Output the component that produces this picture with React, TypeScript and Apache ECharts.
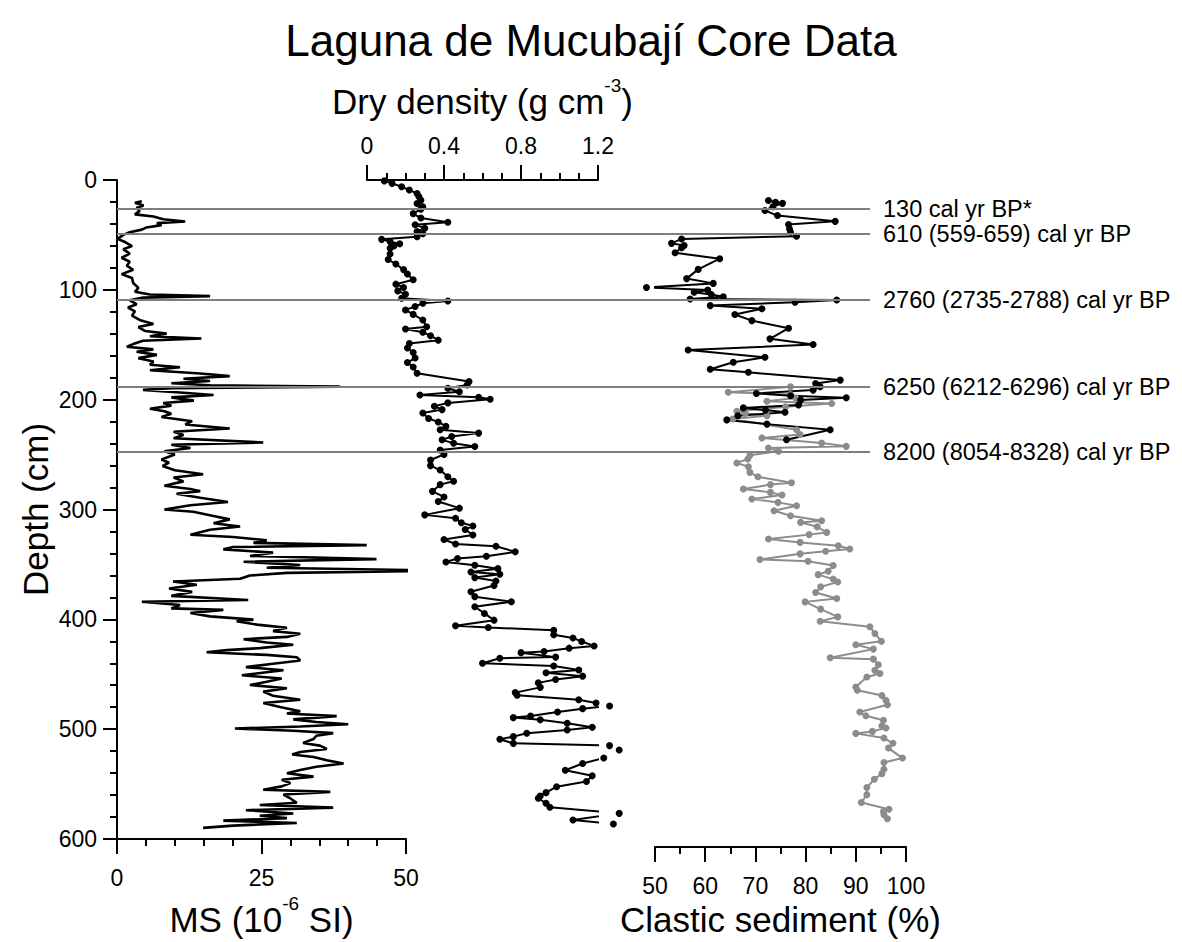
import React, { useEffect, useRef } from "react";
import * as echarts from "echarts";

const FONT = "'Liberation Sans', Arial, Helvetica, sans-serif";

const chartTitle = "Laguna de Mucubají Core Data";

// [depth (cm), MS (10^-6 SI)]
const msProfile: number[][] = [
  [19.3, 4.3], [20.8, 3.1], [23.2, 4.6], [25.3, 3.4], [28.3, 3.9], [31.3, 3.1], [33.3, 6.3], [35.7, 8.0],
  [37.8, 11.8], [39.3, 6.9], [41.1, 7.7], [43.2, 5.1], [45.2, 4.3], [47.6, 2.2], [50.0, 1.1], [53.6, 0.1],
  [56.5, 1.4], [60.1, 2.6], [63.1, 1.1], [67.0, 2.2], [70.8, 0.8], [74.4, 2.2], [78.0, 1.7], [81.8, 2.8],
  [85.7, 0.8], [89.3, 2.6], [93.8, 2.8], [98.2, 3.7], [101.8, 3.1], [104.2, 5.7], [105.7, 16.1], [107.1, 4.5],
  [109.5, 2.2], [113.1, 3.4], [116.1, 1.9], [119.6, 3.1], [123.5, 2.6], [127.4, 3.9], [131.0, 6.3], [133.9, 3.7],
  [137.5, 4.9], [139.9, 8.6], [142.3, 5.7], [144.3, 14.6], [146.4, 4.5], [149.4, 2.8], [151.8, 1.7], [154.2, 6.3],
  [156.3, 3.4], [159.2, 6.9], [162.2, 3.7], [165.2, 6.3], [168.2, 5.7], [170.5, 10.9], [173.2, 5.7], [176.2, 14.4],
  [178.6, 19.5], [181.0, 11.5], [183.0, 16.1], [185.1, 9.4], [186.9, 16.1], [188.1, 38.6], [189.6, 9.4], [191.1, 4.5],
  [193.5, 10.9], [195.8, 16.7], [197.9, 9.4], [200.9, 13.3], [203.0, 8.0], [205.4, 9.4], [208.3, 5.7], [210.5, 8.2],
  [212.8, 9.4], [215.8, 7.7], [219.6, 13.0], [222.6, 11.8], [226.2, 19.5], [229.2, 9.8], [232.1, 11.5], [235.1, 9.8],
  [239.0, 25.3], [241.0, 9.4], [244.0, 12.7], [247.0, 8.2], [250.0, 10.0], [254.5, 7.7], [257.4, 9.0], [260.4, 7.9],
  [264.3, 10.0], [267.9, 14.9], [270.8, 9.8], [274.4, 11.5], [278.3, 8.2], [281.3, 12.7], [283.3, 14.4], [285.7, 10.3],
  [289.3, 14.4], [293.2, 19.2], [296.1, 12.7], [300.0, 8.2], [302.1, 13.2], [306.0, 16.7], [309.0, 19.5], [312.5, 16.7],
  [315.5, 21.3], [318.5, 16.1], [323.0, 12.7], [325.0, 20.1], [328.0, 25.9], [330.4, 23.6], [332.4, 43.2], [334.2, 20.1],
  [336.3, 18.4], [339.3, 27.0], [342.3, 23.0], [345.2, 44.9], [347.6, 21.9], [350.6, 31.7], [353.0, 25.9], [355.7, 56.7],
  [357.7, 29.4], [360.1, 23.0], [363.1, 21.3], [365.5, 9.7], [368.5, 13.8], [372.0, 9.0], [375.0, 13.0], [378.6, 9.4],
  [382.4, 22.7], [384.0, 4.3], [387.0, 10.9], [390.0, 9.4], [391.4, 18.4], [394.3, 12.7], [397.3, 16.1], [400.3, 23.6],
  [401.8, 20.7], [404.8, 24.2], [407.7, 29.4], [410.7, 27.0], [413.1, 31.7], [416.0, 29.4], [418.1, 21.9], [421.1, 25.9],
  [423.2, 30.5], [426.2, 24.7], [428.0, 19.0], [430.0, 15.5], [432.4, 25.9], [434.5, 31.1], [437.5, 31.7], [440.5, 27.0],
  [443.5, 22.3], [446.4, 28.8], [450.9, 21.6], [453.9, 28.5], [456.8, 25.9], [459.8, 23.0], [462.8, 29.4], [465.8, 25.3],
  [469.6, 27.0], [473.2, 31.7], [476.2, 25.3], [479.8, 28.2], [483.6, 31.7], [485.7, 29.4], [488.1, 38.0], [491.1, 30.5],
  [493.5, 34.5], [495.5, 40.0], [497.6, 31.7], [499.4, 20.4], [501.5, 30.5], [503.6, 37.4], [506.0, 34.5], [509.0, 34.0],
  [512.6, 32.2], [515.0, 35.1], [518.0, 36.3], [520.8, 31.7], [523.0, 30.3], [525.3, 34.0], [528.3, 36.3], [531.3, 39.2],
  [534.2, 34.5], [537.2, 31.7], [540.2, 29.4], [543.2, 34.0], [546.1, 28.5], [549.1, 30.0], [552.1, 28.5], [555.1, 25.3],
  [557.1, 36.9], [559.5, 28.8], [563.1, 30.0], [567.0, 31.1], [569.0, 24.7], [571.4, 37.4], [573.8, 22.3], [576.8, 30.5],
  [578.9, 24.7], [581.0, 29.4], [583.3, 18.4], [585.4, 31.1], [587.8, 20.1], [589.9, 14.9],
];

// [depth (cm), dry density (g cm-3)]
const densityProfile: number[][] = [
  [0.8, 0.09], [3, 0.13], [6, 0.18], [9, 0.22], [12, 0.26], [15, 0.27], [18, 0.28], [21, 0.26], [24, 0.29], [26, 0.28],
  [30, 0.24], [34, 0.28], [37.8, 0.42], [40, 0.25], [43, 0.3], [46, 0.26], [48, 0.29], [50.6, 0.26], [53, 0.076],
  [55, 0.12], [57, 0.17], [59, 0.14], [61, 0.12], [66, 0.12], [71, 0.11], [75, 0.15], [80, 0.19], [84, 0.21], [89, 0.24],
  [93, 0.15], [96, 0.19], [99, 0.16], [102, 0.2], [105.6, 0.18], [108, 0.42], [110, 0.29], [113, 0.25], [116, 0.2],
  [120, 0.24], [125, 0.29], [131, 0.31], [133, 0.2], [136, 0.29], [139, 0.33], [143, 0.37], [146, 0.22], [150, 0.21],
  [154, 0.24], [159, 0.25], [163, 0.21], [167, 0.24], [172.6, 0.26], [180, 0.53], [183, 0.52], [186, 0.42], [189, 0.48],
  [192, 0.275], [194, 0.58], [195.8, 0.64], [199, 0.42], [202, 0.35], [205, 0.39], [208, 0.29], [213, 0.32], [216, 0.37],
  [220, 0.41], [223, 0.38], [226, 0.58], [229, 0.44], [232, 0.39], [235, 0.45], [238, 0.56], [241, 0.38], [245, 0.4],
  [250, 0.33], [255, 0.33], [259, 0.38], [265, 0.42], [269, 0.45], [272, 0.38], [278, 0.34], [283, 0.4], [287, 0.37],
  [293, 0.48], [299, 0.3], [302, 0.46], [306, 0.49], [309, 0.55], [312, 0.51], [317, 0.55], [321, 0.4], [325, 0.46],
  [327, 0.67], [332, 0.77], [336, 0.62], [338, 0.47], [341, 0.41], [344, 0.56], [347, 0.68], [350, 0.54], [352, 0.69],
  [355, 0.56], [358, 0.67], [362, 0.66], [367.6, 0.54], [372, 0.56], [376.5, 0.75], [381, 0.56], [387, 0.61], [393, 0.66],
  [398, 0.46], [399.6, 0.63], [402, 0.97], [406, 0.97], [409, 1.07], [412, 1.115], [416, 1.18], [418, 1.05], [421, 0.92],
  [422, 0.8], [426, 0.98], [427, 0.69], [431.5, 0.6], [434, 0.97], [437.5, 1.1], [440, 0.93], [443, 1.12], [446, 0.98],
  [449, 0.89], [453, 0.9], [457.7, 0.77], [460, 0.78], [464, 1.1], [467, 1.19], [469.6, 1.26], [472, 1.12], [475, 0.99],
  [478.6, 0.85], [480, 0.76], [482, 0.9], [485, 1.04], [488.7, 1.17], [491, 1.04], [494, 0.83], [497, 0.76], [499.4, 0.69],
  [503, 0.76], [505, 1.26], [509, 1.31], [516, 1.23], [521, 1.12], [527, 1.03], [532, 1.17], [537, 1.14], [541.7, 0.985],
  [547, 0.93], [550, 0.9], [552, 0.89], [556.5, 0.93], [560, 0.95], [565.5, 1.31], [571.4, 1.07], [575, 1.28],
];

// [depth (cm), clastic sediment (%)] - upper (black) record
const clasticUpper: number[][] = [
  [18.5, 72.6], [20, 74], [21, 75.4], [24, 73.5], [27.4, 71.9], [32, 74.4], [37.2, 85.9], [40, 76.6], [44, 76.8],
  [47, 77], [50.6, 78.2], [53, 55.3], [57, 53.3], [59, 55.8], [61, 55.3], [65.5, 54], [70.8, 62.9], [80.4, 58.6],
  [88.7, 56.3], [93, 61.6], [96.7, 48.3], [99, 60.5], [101, 57.8], [103, 61.2], [105, 63.6], [107, 57], [108, 86.2],
  [110, 77.9], [113, 61], [115.8, 71.3], [121, 65.9], [126.5, 69.3], [133.3, 76.6], [142.9, 72.9], [148, 81.5],
  [153, 56.6], [159.5, 71.9], [164, 65.6], [170.2, 61], [173, 68.6], [180, 86.9], [183, 82], [186, 82.9], [189, 81.5],
  [192, 70.2], [194, 77], [195.8, 88.1], [198, 79], [202.4, 78.6], [205, 67.6], [207, 72], [209, 75.9], [212, 66.5],
  [215.8, 64.3], [219.6, 72.3], [224.7, 84.9], [233.6, 76.2],
];

// [depth (cm), clastic sediment (%)] - lower (grey) record
const clasticLower: number[][] = [
  [186, 77], [191, 64.6], [193, 77], [196, 78], [199, 72.3], [201, 85.2], [204, 76], [208, 66.3], [210, 68], [212, 72.3],
  [215, 65.5], [224.7, 78.2], [229, 78.9], [232, 71.3], [236.6, 83.2], [239.6, 88.1], [241, 72.6], [244, 74.6],
  [247.6, 68.9], [251, 68.5], [254.5, 66.3], [258, 68.6], [263, 68.9], [267, 70.5], [272.3, 77.2], [274, 73], [278, 67.6],
  [281, 73], [283.3, 75.3], [287, 69.3], [290, 74.5], [293, 78.2], [297.6, 73.7], [302, 77], [306.5, 83.2], [308, 79],
  [312, 82.3], [317, 84.2], [319, 80.7], [323, 72.6], [326, 78.9], [329, 86.5], [332, 88.8], [334, 84], [336.3, 78.9],
  [341.4, 70.9], [343, 80.5], [346.7, 85.5], [352, 84.5], [355, 82.5], [359, 85.5], [361.6, 86.4], [366, 83], [371, 82],
  [376.5, 86.2], [379.5, 79.9], [386, 83], [393, 86.4], [397, 82.9], [401.8, 92.8], [408, 93.8], [415, 95.1], [418, 90],
  [422, 93.5], [429.8, 84.9], [431, 93.5], [436, 94.5], [441, 93.8], [444, 94.8], [447, 92.2], [456, 90], [459, 90.3],
  [463.8, 95.2], [468, 96], [472, 96.3], [478.6, 90.8], [482, 92], [486, 95.5], [491, 95.2], [493, 96], [496, 93.3],
  [497.8, 90], [502, 95.6], [506.7, 97.4], [511, 96.5], [520, 99.3], [524, 95.6], [530, 95.6], [534, 95.2], [539, 93.7],
  [546.5, 92.2], [553, 92.2], [560, 91.1], [566, 96.6], [568, 95.5], [571, 95.6], [574.6, 96.3],
];

const dateDepths = [26, 48, 107, 185, 243];
const dateLabels = [
  "130 cal yr BP*",
  "610 (559-659) cal yr BP",
  "2760 (2735-2788) cal yr BP",
  "6250 (6212-6296) cal yr BP",
  "8200 (8054-8328) cal yr BP",
];

const msTicks = [0, 25, 50];
const densityTicks = [0, 0.4, 0.8, 1.2];
const clasticTicks = [50, 60, 70, 80, 90, 100];
const depthTicks = [0, 100, 200, 300, 400, 500, 600];

const toXY = (rows: number[][]) => rows.map((r) => [r[1], r[0]]);

export default function App() {
  const ref = useRef<HTMLDivElement>(null);

  useEffect(() => {
    document.body.style.margin = "0";
    const chart = echarts.init(ref.current as HTMLDivElement, null, { renderer: "svg" });
    const black = { color: "#000", width: 2 };
    const rich = (size: number) => ({
      a: { fontSize: size, lineHeight: size + 8, verticalAlign: "bottom", fontFamily: FONT, color: "#000" },
      s: { fontSize: Math.round(size * 0.55), lineHeight: Math.round(size * 0.55), verticalAlign: "top", fontFamily: FONT, color: "#000" },
    });
    const hiddenY = (i: number) => ({
      gridIndex: i, type: "value", min: depthTicks[0], max: depthTicks[depthTicks.length - 1], inverse: true, show: false,
    });
    const xCommon = {
      type: "value",
      axisLine: { show: true, onZero: false, lineStyle: black },
      axisTick: { show: true, inside: false, length: 15, lineStyle: black },
      splitLine: { show: false },
      nameLocation: "middle",
    };

    chart.setOption({
      animation: false,
      backgroundColor: "#fff",
      textStyle: { fontFamily: FONT, color: "#000" },
      title: {
        text: chartTitle, left: "center", top: 13,
        textStyle: { fontSize: 44, fontWeight: "normal", color: "#000", fontFamily: FONT },
      },
      grid: [
        { left: 117, top: 180, width: 289, height: 672 },
        { left: 367, top: 180, width: 231, height: 672 },
        { left: 655, top: 180, width: 251, height: 672 },
        { left: 117, top: 180, width: 753, height: 672 },
      ],
      xAxis: [
        {
          ...xCommon, gridIndex: 0, position: "bottom",
          min: msTicks[0], max: msTicks[msTicks.length - 1], interval: msTicks[1] - msTicks[0],
          minorTick: { show: true, splitNumber: 5, length: 7, lineStyle: black },
          axisLabel: { fontSize: 23, margin: 27, color: "#000", fontFamily: FONT },
          name: "{a|MS (10}{s|-6}{a| SI)}", nameGap: 55,
          nameTextStyle: { fontSize: 35, rich: rich(35) },
        },
        {
          ...xCommon, gridIndex: 1, position: "top",
          min: densityTicks[0], max: densityTicks[densityTicks.length - 1], interval: 0.4,
          minorTick: { show: true, splitNumber: 4, length: 7, lineStyle: black },
          axisLabel: {
            fontSize: 23, margin: 23, color: "#000", fontFamily: FONT,
            formatter: (v: number) => String(Math.round(v * 10) / 10),
          },
          name: "{a|Dry density (g cm}{s|-3}{a|)}", nameGap: 61,
          nameTextStyle: { fontSize: 35, rich: rich(35) },
        },
        {
          ...xCommon, gridIndex: 2, position: "bottom",
          min: clasticTicks[0], max: clasticTicks[clasticTicks.length - 1], interval: 10,
          minorTick: { show: true, splitNumber: 2, length: 7, lineStyle: black },
          axisLabel: { fontSize: 23, margin: 27, color: "#000", fontFamily: FONT },
          name: "Clastic sediment (%)", nameGap: 55,
          nameTextStyle: { fontSize: 35, color: "#000", fontFamily: FONT },
        },
        { gridIndex: 3, type: "value", min: 0, max: 1, show: false },
      ],
      yAxis: [
        {
          gridIndex: 0, type: "value", min: 0, max: 600, interval: 100, inverse: true,
          axisLine: { show: true, onZero: false, lineStyle: black },
          axisTick: { show: true, inside: false, length: 14, lineStyle: black },
          minorTick: { show: true, splitNumber: 5, length: 7, lineStyle: black },
          splitLine: { show: false },
          axisLabel: { fontSize: 23, margin: 20, color: "#000", fontFamily: FONT },
          name: "Depth (cm)", nameLocation: "middle", nameRotate: 90, nameGap: 64,
          nameTextStyle: { fontSize: 35, color: "#000", fontFamily: FONT },
        },
        hiddenY(1),
        hiddenY(2),
        hiddenY(3),
      ],
      series: [
        {
          type: "line", xAxisIndex: 3, yAxisIndex: 3, data: [[0, 0]], symbol: "none",
          lineStyle: { opacity: 0 }, silent: true,
          markLine: {
            silent: true, symbol: ["none", "none"],
            lineStyle: { color: "#7f7f7f", width: 2, type: "solid" },
            label: { show: true, position: "end", distance: 13, formatter: "{b}", color: "#000", fontSize: 23.5, fontFamily: FONT },
            data: dateDepths.map((d, i) => ({ yAxis: d, name: dateLabels[i] })),
          },
        },
        {
          name: "MS", type: "line", xAxisIndex: 0, yAxisIndex: 0, data: toXY(msProfile),
          symbol: "none", clip: false, lineStyle: { color: "#000", width: 2.6 },
        },
        {
          name: "Dry density", type: "line", xAxisIndex: 1, yAxisIndex: 1, data: toXY(densityProfile),
          symbol: "circle", symbolSize: 7, clip: false,
          itemStyle: { color: "#000" }, lineStyle: { color: "#000", width: 2 },
        },
        {
          name: "Clastic lower", type: "line", xAxisIndex: 2, yAxisIndex: 2, data: toXY(clasticLower),
          symbol: "circle", symbolSize: 7, clip: false,
          itemStyle: { color: "#8c8c8c" }, lineStyle: { color: "#8c8c8c", width: 2 },
        },
        {
          name: "Clastic upper", type: "line", xAxisIndex: 2, yAxisIndex: 2, data: toXY(clasticUpper),
          symbol: "circle", symbolSize: 7, clip: false,
          itemStyle: { color: "#000" }, lineStyle: { color: "#000", width: 2 },
        },
      ],
    });
    return () => chart.dispose();
  }, []);

  return <div ref={ref} style={{ width: 1182, height: 942 }} />;
}
